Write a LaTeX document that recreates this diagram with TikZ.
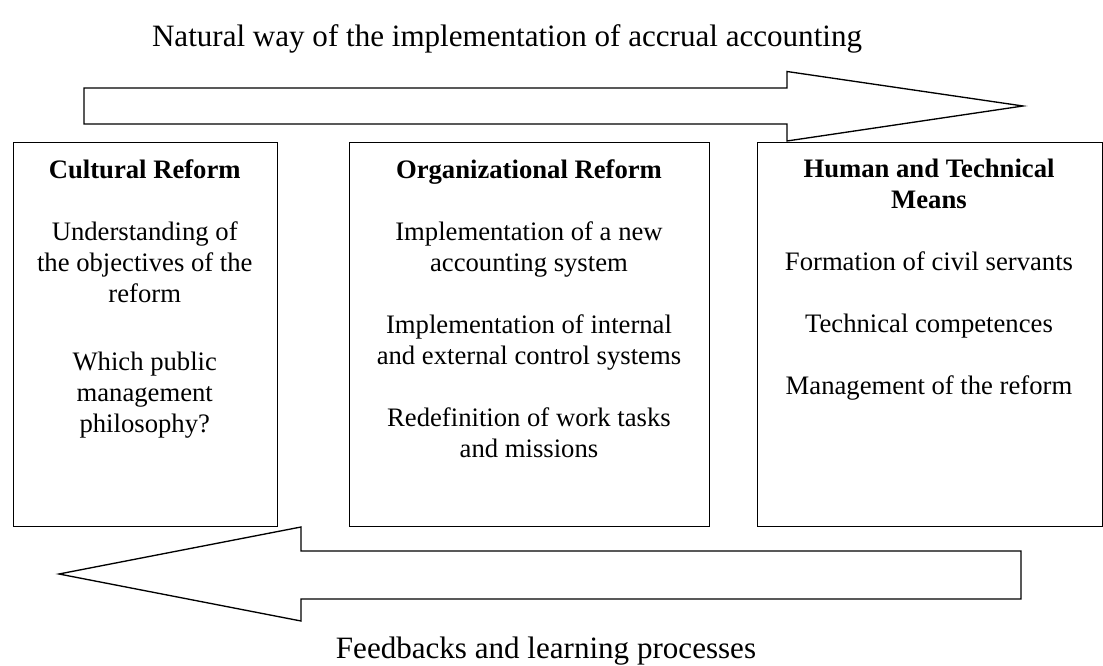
\documentclass[tikz,border=0pt]{standalone}
\usepackage{fontspec}
\setmainfont{Liberation Serif}
\begin{document}
\begin{tikzpicture}[x=0.75pt,y=-0.75pt,
  panel/.style={draw, line width=1pt, inner sep=0pt, anchor=north west, minimum height=288pt},
  body/.style={align=center, font=\fontsize{20}{23.25}\selectfont, inner sep=0pt, anchor=north},
  caption/.style={font=\fontsize{23.3}{28}\selectfont, inner sep=0pt, anchor=base},
  bigarrow/.style={draw, line width=1pt, line join=miter}]
\useasboundingbox (0,0) rectangle (1103,666);

% captions
\node[caption] (title) at (507,47) {Natural way of the implementation of accrual accounting};
\node[caption] (foot) at (546,658) {Feedbacks and learning processes};

% top block arrow
\draw[bigarrow] (84,88) -- (787,88) -- (787,71.5) -- (1023,106) -- (787,141) -- (787,124) -- (84,124) -- cycle;

% bottom block arrow
\draw[bigarrow] (1021,551) -- (301,551) -- (301,527) -- (59,574) -- (301,621) -- (301,599) -- (1021,599) -- cycle;

% panels
\node[panel, minimum width=198.4pt] (p1) at (12.5,142) {};
\node[panel, minimum width=270pt] (p2) at (349,142) {};
\node[panel, minimum width=258.4pt] (p3) at (757,142) {};

\node[body] (t1) at (144.75,159) {\textbf{Cultural Reform}\\[23.25pt]
Understanding of\\the objectives of the\\reform\\[27.75pt]
Which public\\management\\philosophy?};

\node[body] (t2) at (529,159) {\textbf{Organizational Reform}\\[23.25pt]
Implementation of a new\\accounting system\\[23.25pt]
Implementation of internal\\and external control systems\\[23.25pt]
Redefinition of work tasks\\and missions};

\node[body] (t3) at (929,159) {\textbf{Human and Technical}\\\textbf{Means}\\[23.25pt]
Formation of civil servants\\[23.25pt]
Technical competences\\[23.25pt]
Management of the reform};
\end{tikzpicture}
\end{document}
